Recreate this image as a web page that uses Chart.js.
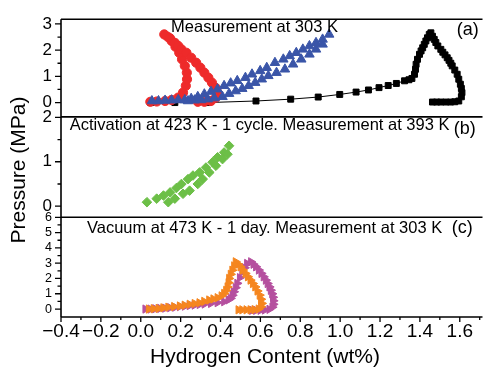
<!DOCTYPE html>
<html><head><meta charset="utf-8">
<script src="https://cdn.jsdelivr.net/npm/chart.js@4.4.1/dist/chart.umd.min.js"></script>
<style>html,body{margin:0;padding:0;background:#fff}</style>
</head><body>
<canvas id="c" width="489" height="374"></canvas>
<script>
// panel (a): Measurement at 303 K
const redX = [0.048,0.080,0.122,0.155,0.188,0.212,0.226,0.232,0.231,0.221,0.207,0.193,0.174,0.155,0.135,0.118,
  0.147,0.171,0.188,0.204,0.229,0.253,0.278,0.299,0.319,0.339,0.357,0.374,0.385,0.377,0.352,0.319,0.286];
const redY = [0.03,0.04,0.06,0.10,0.19,0.38,0.64,0.89,1.14,1.40,1.65,1.90,2.13,2.35,2.51,2.60,
  2.45,2.28,2.16,2.03,1.90,1.71,1.52,1.33,1.14,0.95,0.76,0.57,0.38,0.19,0.06,0.03,0.03];
const blueX = [0.056,0.089,0.122,0.155,0.188,0.221,
  0.237,0.270,0.303,0.336,0.369,0.410,0.443,0.476,0.509,0.541,0.574,0.607,0.640,0.681,0.723,0.764,0.805,0.846,0.879,0.912,
  0.945,0.912,0.879,0.846,0.813,0.780,0.747,0.715,0.673,0.632,0.599,0.558,0.525,0.484,0.451,0.418,0.385,0.352,0.319,0.286,0.253];
const blueY = [0.06,0.06,0.08,0.09,0.10,0.10,
  0.06,0.09,0.10,0.13,0.17,0.22,0.34,0.44,0.53,0.64,0.76,0.89,1.02,1.14,1.27,1.46,1.65,1.84,2.03,2.22,
  2.60,2.41,2.28,2.16,2.03,1.90,1.78,1.65,1.52,1.33,1.21,1.08,0.95,0.83,0.74,0.64,0.51,0.42,0.32,0.22,0.15];
const blackX = [0.05,0.171,0.336,0.578,0.752,0.890,0.998,1.080,1.142,1.195,1.241,1.282,1.323,1.345,1.360,1.373,1.378,1.381,1.388,1.398,
  1.406,1.414,1.422,1.430,1.438,1.447,1.455,1.463,1.472,1.480,1.490,1.505,1.515,1.526,1.537,1.546,1.555,1.562,1.575,1.587,
  1.595,1.603,1.608,1.611,1.608,1.595,1.575,1.554,1.530,1.505,1.484,1.463];
const blackY = [0.0,0.0,0.0,0.06,0.13,0.21,0.31,0.40,0.48,0.57,0.65,0.73,0.83,0.87,0.92,1.08,1.27,1.46,1.65,1.84,
  1.97,2.09,2.22,2.35,2.47,2.60,2.66,2.53,2.41,2.29,2.16,2.03,1.92,1.82,1.71,1.61,1.50,1.40,1.24,1.08,
  0.89,0.70,0.54,0.38,0.22,0.06,0.03,0.02,0.02,0.02,0.02,0.02];
// panel (b): activation at 423 K, measurement at 393 K
const greenX = [0.031,0.080,0.114,0.147,0.179,0.204,0.237,0.262,0.295,0.327,0.360,0.385,0.418,0.443,
  0.138,0.171,0.212,0.245,0.286,0.311,0.344,0.377,0.410,0.435];
const greenY = [0.09,0.17,0.24,0.31,0.41,0.50,0.61,0.69,0.76,0.87,0.99,1.10,1.21,1.36,
  0.09,0.17,0.28,0.35,0.50,0.61,0.76,0.91,1.06,1.17];
// panel (c): vacuum at 473 K, measurement at 303 K
const orangeX = [0.040,0.064,0.089,0.113,0.138,0.167,0.196,0.220,0.245,0.270,0.294,0.318,0.343,0.364,0.385,0.405,0.418,0.428,0.435,0.440,
  0.443,0.451,0.459,0.468,0.476,0.488,0.500,0.512,0.525,0.537,0.550,0.562,0.574,0.585,0.596,0.603,0.607,0.603,0.591,0.570,
  0.550,0.530,0.509,0.490];
const orangeY = [0.0,0.02,0.04,0.08,0.12,0.16,0.20,0.25,0.31,0.36,0.41,0.50,0.59,0.66,0.74,0.86,1.02,1.22,1.45,1.72,
  2.0,2.27,2.54,2.82,3.09,2.93,2.76,2.55,2.33,2.11,1.89,1.67,1.45,1.18,0.91,0.64,0.37,0.15,0.0,-0.04,
  -0.05,-0.05,-0.05,-0.05];
const purpleX = [0.023,0.048,0.072,0.097,0.122,0.147,0.172,0.196,0.221,0.245,0.270,0.295,0.320,0.352,0.385,0.418,0.440,0.451,0.460,0.467,
  0.476,0.484,0.497,0.509,0.521,0.533,0.553,
  0.565,0.578,0.592,0.605,0.616,0.627,0.636,0.645,0.652,0.659,0.663,0.665,0.665,0.660,0.645,0.622,0.600,0.578,0.558];
const purpleY = [0.0,0.0,0.02,0.04,0.06,0.09,0.12,0.16,0.19,0.23,0.26,0.30,0.33,0.37,0.42,0.48,0.60,0.70,0.90,1.13,
  1.40,1.68,2.05,2.43,2.70,2.98,3.09,
  2.93,2.76,2.55,2.33,2.11,1.89,1.67,1.45,1.23,1.00,0.77,0.54,0.31,0.12,-0.02,-0.06,-0.08,-0.08,-0.08];

const xMajor = [-0.4,-0.2,0,0.2,0.4,0.6,0.8,1.0,1.2,1.4,1.6];
const xMinor = [-0.3,-0.1,0.1,0.3,0.5,0.7,0.9,1.1,1.3,1.5,1.7];
const yaMajor = [0,1,2,3], yaMinor = [0.5,1.5,2.5];
const ybMajor = [0,1,2], ybMinor = [0.5,1.5];
const ycMajor = [0,1,2,3,4,5,6], ycMinor = [0.5,1.5,2.5,3.5,4.5,5.5];

const FONT = "'Liberation Sans', Arial, sans-serif";
const pts = (xs, ys) => xs.map((x, i) => ({x, y: ys[i]}));

const panels = [
  {id:'yA', major:yaMajor, minor:yaMinor},
  {id:'yB', major:ybMajor, minor:ybMinor},
  {id:'yC', major:ycMajor, minor:ycMinor}
];
const notes = [
  {text:'Measurement at 303 K', axis:'yA', x:0.152, y:2.88, size:16.5},
  {text:'(a)', axis:'yA', x:1.585, y:2.76, size:18},
  {text:'Activation at 423 K - 1 cycle. Measurement at 393 K', axis:'yB', x:-0.356, y:1.81, size:16.5},
  {text:'(b)', axis:'yB', x:1.570, y:1.74, size:18},
  {text:'Vacuum at 473 K - 1 day. Measurement at 303 K', axis:'yC', x:-0.270, y:5.26, size:16.5},
  {text:'(c)', axis:'yC', x:1.560, y:5.28, size:18}
];

const frame = {
  id:'frame',
  afterDraw(chart){
    const ctx = chart.ctx, xs = chart.scales.x, area = chart.chartArea;
    ctx.save();
    ctx.strokeStyle = '#000'; ctx.lineWidth = 1.3;
    ctx.beginPath();
    xMajor.forEach(v => { const p = xs.getPixelForValue(v); ctx.moveTo(p, area.bottom); ctx.lineTo(p, area.bottom + 5); });
    xMinor.forEach(v => { const p = xs.getPixelForValue(v); ctx.moveTo(p, area.bottom); ctx.lineTo(p, area.bottom + 3); });
    panels.forEach(pn => {
      const s = chart.scales[pn.id];
      pn.major.forEach(v => { const p = s.getPixelForValue(v); ctx.moveTo(area.left, p); ctx.lineTo(area.left - 6, p); });
      pn.minor.forEach(v => { const p = s.getPixelForValue(v); ctx.moveTo(area.left, p); ctx.lineTo(area.left - 3.5, p); });
    });
    ctx.stroke();
    ctx.lineWidth = 1.6;
    ctx.beginPath();
    panels.forEach(pn => { const s = chart.scales[pn.id]; ctx.moveTo(area.left, s.top); ctx.lineTo(area.right, s.top); });
    ctx.moveTo(area.left, area.bottom); ctx.lineTo(area.right, area.bottom);
    ctx.moveTo(area.left, area.top); ctx.lineTo(area.left, area.bottom);
    ctx.stroke();
    ctx.fillStyle = '#000';
    ctx.textBaseline = 'middle';
    notes.forEach(n => {
      ctx.font = n.size + 'px ' + FONT;
      ctx.textAlign = 'left';
      ctx.fillText(n.text, xs.getPixelForValue(n.x), chart.scales[n.axis].getPixelForValue(n.y));
    });
    ctx.font = '21px ' + FONT;
    ctx.textAlign = 'center';
    ctx.fillText('Hydrogen Content (wt%)', 265, 357);
    ctx.translate(19, 170);
    ctx.rotate(-Math.PI / 2);
    ctx.fillText('Pressure (MPa)', 0, 0);
    ctx.restore();
  }
};

function yScale(major, min, max, weight, size){
  return {
    type:'linear', position:'left', stack:'p', stackWeight:weight, min, max,
    afterBuildTicks: s => { s.ticks = major.map(v => ({value:v})); },
    afterFit: s => { s.width = 61; },
    grid:{display:false, drawTicks:false, tickLength:0},
    border:{display:false},
    ticks:{color:'#000', padding:9, autoSkip:false, font:{family:FONT, size}, callback: v => String(v)}
  };
}

new Chart(document.getElementById('c').getContext('2d'), {
  type:'scatter',
  data:{ datasets:[
    {data:pts(blueX, blueY), yAxisID:'yA', pointStyle:'triangle', pointRadius:5.5, pointBorderWidth:1,
      backgroundColor:'#3a55a8', borderColor:'#3a55a8'},
    {data:pts(redX, redY), yAxisID:'yA', pointStyle:'circle', pointRadius:4.6, pointBorderWidth:1,
      backgroundColor:'#ee2a2a', borderColor:'#ee2a2a'},
    {data:pts(blackX, blackY), yAxisID:'yA', pointStyle:'rect', pointRadius:4.2, pointBorderWidth:1,
      backgroundColor:'#000', borderColor:'#000', showLine:true, borderWidth:1},
    {data:pts(greenX, greenY), yAxisID:'yB', pointStyle:'rectRot', pointRadius:4.8, pointBorderWidth:1,
      backgroundColor:'#6cbf47', borderColor:'#6cbf47'},
    {data:pts(orangeX, orangeY), yAxisID:'yC', pointStyle:'triangle', pointRotation:90, pointRadius:4.8, pointBorderWidth:1,
      backgroundColor:'#f5861f', borderColor:'#f5861f'},
    {data:pts(purpleX, purpleY), yAxisID:'yC', pointStyle:'triangle', pointRotation:90, pointRadius:4.8, pointBorderWidth:1,
      backgroundColor:'#b5509f', borderColor:'#b5509f'}
  ]},
  options:{
    responsive:false, devicePixelRatio:1, animation:false,
    layout:{padding:{top:18, left:0, right:0, bottom:0}},
    plugins:{legend:{display:false}, tooltip:{enabled:false}},
    scales:{
      x:{type:'linear', min:-0.4, max:1.714,
        afterBuildTicks: s => { s.ticks = xMajor.map(v => ({value:v})); },
        afterFit: s => { s.height = 57; },
        grid:{display:false, drawTicks:false, tickLength:0},
        border:{display:false},
        ticks:{color:'#000', padding:3, maxRotation:0, autoSkip:false, font:{family:FONT, size:19},
          callback: v => v.toFixed(1).replace('-', '\u2212')}},
      yC: yScale(ycMajor, -0.52, 6.0, 100, 12.5),
      yB: yScale(ybMajor, -0.25, 2.01, 100.7, 17),
      yA: yScale(yaMajor, -0.547, 3.18, 98, 17)
    }
  },
  plugins:[frame]
});
</script>
</body></html>
